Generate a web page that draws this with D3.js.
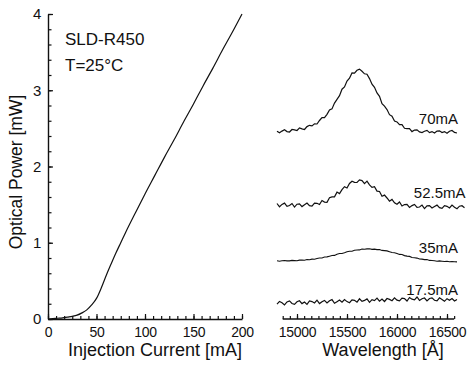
<!DOCTYPE html>
<html>
<head>
<meta charset="utf-8">
<script src="https://cdn.jsdelivr.net/npm/d3@7"></script>
<style>
  html, body { margin: 0; padding: 0; background: #fff; }
  svg { display: block; font-family: "Liberation Sans", Arial, Helvetica, sans-serif; }
</style>
</head>
<body>
<svg id="chart" width="468" height="365"></svg>
<script>
// --- left panel: light output vs injection current ---
const current = [0, 5, 10, 15, 20, 25, 30, 35, 40, 45, 50, 55, 60, 65, 70, 75, 80, 90, 100, 110, 120, 130, 140, 150, 160, 170, 180, 190, 200];
const power = [0, 0.005, 0.01, 0.015, 0.025, 0.035, 0.05, 0.08, 0.12, 0.185, 0.27, 0.41, 0.57, 0.72, 0.865, 1.0, 1.135, 1.39, 1.64, 1.88, 2.12, 2.35, 2.59, 2.82, 3.06, 3.29, 3.53, 3.76, 4.0];
const currentTicks = [0, 50, 100, 150, 200];
const powerTicks = [0, 1, 2, 3, 4];

// --- right panel: spectra (arbitrary units, stacked with offsets) ---
const wavelengthTicks = [15000, 15500, 16000, 16500];
const specStart = 14800, specStep = 25;
const specLabels = ["70mA", "52.5mA", "35mA", "17.5mA"];
const specOffsets = [187, 113, 58, 16];
const spec70 = [0.8, -0.8, 0.9, 2.2, 0.4, 0, 2.5, 2.2, 1.5, 4.1, 3.1, 2.5, 5.4, 6.7, 6.1, 8.1, 8.0, 11.5, 14.3, 14.4, 17.7, 22, 23.1, 28.9, 32.7, 36.3, 42.8, 45, 50.9, 53.8, 59, 58.8, 61.7, 62.9, 60.7, 58.2, 57.8, 53.4, 47.8, 44.7, 39.1, 35.6, 28.3, 25.8, 22.4, 17.3, 15.8, 10.9, 10.1, 7.3, 7.3, 3.7, 3.4, 3.4, 0.4, 1.9, 2.1, 0.1, -0.5, 0.8, 1.6, -0.6, 0.4, -1.0, 0.9, 1.2, -0.5, 0.4, -1.3, 0.8, 1.5, -0.4, -1.0];
const spec52 = [2.5, -0.8, 1.6, 2.9, -0.3, 0.5, 2.5, -1.1, 1.8, 2.2, -0.6, 1.2, 3.0, 0.4, -0.2, 2.9, 2.7, 1.5, 5.5, 3.9, 3.7, 8.3, 9.1, 9.1, 13.9, 12.4, 16.4, 19.3, 18.0, 22.5, 24.8, 23.6, 23.5, 26.1, 25.4, 22.4, 24.9, 21.2, 18.6, 19.3, 14.9, 14.5, 9.7, 10.9, 8.0, 4.8, 6.6, 3.2, 1.7, 4.0, 0, 1.4, 1.6, -1.5, 0.4, 1.6, -1.4, -1.0, 0.9, -2.6, 0.1, 0.4, -2.0, -0.4, 0.9, -1.6, -2.4, 0.4, -0.3, -2.0, 1.0, -1.3, -2.7, -0.2, 0.3, -1.7];
const spec35 = [0.3, -0.2, 0.2, 0.5, 0.1, 0.1, 0.6, 0.4, 0.2, 0.9, 0.9, 0.8, 1.5, 1.3, 1.9, 1.8, 2.5, 3.0, 3.0, 4.0, 4.1, 4.8, 5.5, 5.6, 6.7, 7.5, 7.5, 8.3, 9.2, 9.7, 9.8, 10.8, 11.0, 11.1, 11.9, 11.7, 12.1, 12.2, 11.6, 11.9, 11.4, 11.5, 10.6, 10.4, 10.1, 9.3, 8.5, 8.3, 7.5, 6.6, 6.5, 5.4, 4.9, 4.6, 3.5, 3.3, 2.9, 2.0, 1.9, 1.4, 1.4, 0.6, 0.5, 0.3, -0.2, 0.1, -0.2, -0.5, -0.3, -0.8, -0.6, -0.8, -0.9];
const spec17 = [-1.2, 1.6, 0.3, -1.9, 1.1, 2.1, -0.5, -1.3, 1.2, 2.2, -0.6, 1.0, -1.4, 2.0, 1.4, 0, 2.9, -0.6, 1.3, 2.6, 0, 2.2, 3.4, -0.3, 1.3, 2.9, 0.8, 3.5, 1.4, 0.3, 3.1, 2.7, 0.8, 4.2, 1.6, 2.6, 4.1, 0.7, 3.4, 2.4, 4.9, 1.8, 3.9, 1.5, 4.5, 3.6, 2.3, 5.2, 2.9, 2.1, 4.8, 4.4, 2.0, 5.5, 3.8, 3.1, 6.0, 2.6, 4.3, 5.0, 2.1, 4.5, 5.1, 2.7, 2.2, 5.2, 3.6, 1.7, 4.3, 2.7, 4.5, 2.0, 3.6];
const spectra = [spec70, spec52, spec35, spec17];

const svg = d3.select("#chart");
const ink = "#111";
const tickFont = "14px";

// scales
const xI = d3.scaleLinear([0, 200], [48, 242]);
const yP = d3.scaleLinear([0, 4], [319, 14]);
const xW = d3.scaleLinear([15000, 16500], [297, 447]);
const yS = d3.scaleLinear([0, 305], [319, 14]);

function styleAxis(g) {
    g.selectAll("path.domain").attr("stroke", ink).attr("stroke-width", 1.4);
    g.selectAll(".tick line").attr("stroke", ink).attr("stroke-width", 1.2);
    g.selectAll(".tick text").attr("fill", ink)
        .style("font-size", tickFont).style("letter-spacing", "-0.3px");
}

// left x axis: minor ticks, then labelled majors
const gxIminor = svg.append("g").attr("transform", "translate(0,319)")
    .call(d3.axisBottom(xI).tickValues(d3.range(0, 200.01, 50 / 6)).tickSize(-3).tickSizeOuter(0).tickFormat(""));
styleAxis(gxIminor);
const gxI = svg.append("g").attr("transform", "translate(0,319)")
    .call(d3.axisBottom(xI).tickValues(currentTicks).tickSize(-5).tickSizeOuter(0).tickPadding(8).tickFormat(d3.format("d")));
styleAxis(gxI);
gxI.select("path.domain").remove();

// left y axis
const gyPminor = svg.append("g").attr("transform", "translate(48,0)")
    .call(d3.axisLeft(yP).tickValues(d3.range(0, 4.001, 0.2)).tickSize(-3.5).tickSizeOuter(0).tickFormat(""));
styleAxis(gyPminor);
const gyP = svg.append("g").attr("transform", "translate(48,0)")
    .call(d3.axisLeft(yP).tickValues(powerTicks).tickSize(-5).tickSizeOuter(0).tickPadding(7).tickFormat(d3.format("d")));
styleAxis(gyP);
gyP.select("path.domain").remove();
gyP.selectAll(".tick text").style("font-size", "15px");

// L-I curve
svg.append("path")
    .datum(current.map((c, i) => [c, power[i]]))
    .attr("fill", "none")
    .attr("stroke", ink)
    .attr("stroke-width", 1.2)
    .attr("d", d3.line().x(d => xI(d[0])).y(d => yP(d[1])).curve(d3.curveMonotoneX));

svg.append("text").attr("x", xI(0) + 17).attr("y", 45).attr("fill", ink)
    .style("font-size", "17px").text("SLD-R450");
svg.append("text").attr("x", xI(0) + 17).attr("y", 71).attr("fill", ink)
    .style("font-size", "17px").text("T=25°C");

// axis titles
svg.append("text").attr("transform", "translate(22,172) rotate(-90)")
    .attr("text-anchor", "middle").attr("fill", ink).style("font-size", "17.5px")
    .text("Optical Power [mW]");
svg.append("text").attr("x", 155).attr("y", 356)
    .attr("text-anchor", "middle").attr("fill", ink).style("font-size", "18px")
    .text("Injection Current [mA]");

// right x axis (wavelength)
const wlMinor = d3.range(15000 - 1000 / 7, 16600, 500 / 7);
const gxWminor = svg.append("g").attr("transform", "translate(0,319)")
    .call(d3.axisBottom(xW).tickValues(wlMinor).tickSize(-3).tickFormat(""));
styleAxis(gxWminor);
gxWminor.select("path.domain").remove();
gxWminor.append("line")
    .attr("x1", xW(wlMinor[0])).attr("x2", xW(wlMinor[wlMinor.length - 1]))
    .attr("stroke", ink).attr("stroke-width", 1.4);
const gxW = svg.append("g").attr("transform", "translate(0,319)")
    .call(d3.axisBottom(xW).tickValues(wavelengthTicks).tickSize(-5).tickPadding(8).tickFormat(d3.format("d")));
styleAxis(gxW);
gxW.select("path.domain").remove();

svg.append("text").attr("x", 383).attr("y", 356)
    .attr("text-anchor", "middle").attr("fill", ink).style("font-size", "18px")
    .text("Wavelength [Å]");

// spectra
spectra.forEach((vals, k) => {
    const off = specOffsets[k];
    svg.append("path")
        .datum(vals)
        .attr("fill", "none")
        .attr("stroke", ink)
        .attr("stroke-width", k === 2 ? 1.1 : 1.2)
        .attr("stroke-linejoin", "miter")
        .attr("d", d3.line()
            .x((d, i) => xW(specStart + i * specStep))
            .y(d => yS(off + d)));

    svg.append("text")
        .attr("x", xW(specStart + (vals.length - 1) * specStep) + 1)
        .attr("y", yS(off) - 8)
        .attr("text-anchor", "end")
        .attr("fill", ink)
        .style("font-size", "15px")
        .text(specLabels[k]);
});
</script>
</body>
</html>
